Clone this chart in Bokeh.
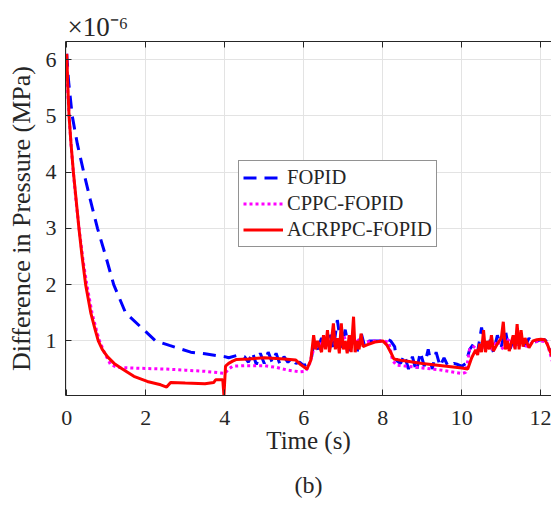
from bokeh.plotting import figure
from bokeh.models import Range1d, FixedTicker, Legend, LegendItem, LinearAxis, Title
from bokeh.embed import file_html
from bokeh.resources import INLINE

# ---- data (values in units of 1e-6 MPa) ----
t_fopid = [0, 0.05, 0.14, 0.27, 0.43, 0.6, 0.78, 0.99, 1.19, 1.49, 1.87, 2.25, 2.6, 3.14, 3.5, 3.8, 4.0,
           4.1, 4.3, 4.5, 4.6, 4.7, 4.8, 4.9, 5.0, 5.1, 5.2, 5.3, 5.4, 5.5, 5.6, 5.7, 5.8, 5.9, 6.0, 6.1, 6.2,
           6.25, 6.35, 6.45, 6.55, 6.65, 6.75, 6.85, 6.95, 7.05, 7.15, 7.25, 7.35, 7.45, 7.55, 7.65, 7.8, 8.0,
           8.1, 8.2, 8.3, 8.35, 8.45, 8.55, 8.65, 8.75, 8.85, 8.95, 9.05, 9.15, 9.25, 9.35, 9.45, 9.55, 9.65,
           9.8, 9.9, 10.0, 10.1, 10.2, 10.3, 10.4, 10.5, 10.6, 10.7, 10.8, 10.9, 11.0, 11.1, 11.2, 11.3, 11.4,
           11.5, 11.6, 11.7, 11.8, 11.9, 12.0, 12.1, 12.2, 12.3]
v_fopid = [6.1, 5.6, 5.0, 4.5, 4.0, 3.5, 3.0, 2.5, 2.0, 1.5, 1.25, 1.0, 0.92, 0.8, 0.77, 0.74, 0.72,
           0.7, 0.74, 0.72, 0.62, 0.8, 0.58, 0.78, 0.6, 0.8, 0.62, 0.78, 0.58, 0.72, 0.62, 0.7, 0.6, 0.62, 0.56, 0.6, 0.72,
           0.95, 0.85, 1.05, 0.9, 1.18, 0.85, 1.37, 0.88, 1.2, 0.82, 1.1, 0.8, 1.15, 0.88, 1.0, 1.0, 1.0,
           1.03, 1.0, 0.9, 0.65, 0.6, 0.75, 0.5, 0.72, 0.45, 0.8, 0.55, 0.85, 0.5, 0.8, 0.55, 0.7, 0.55,
           0.6, 0.58, 0.55, 0.6, 0.85, 0.95, 0.8, 1.24, 0.85, 1.05, 0.8, 1.1, 0.9, 1.2, 0.82, 1.0, 0.85,
           1.1, 0.9, 1.05, 0.95, 1.0, 1.02, 1.02, 0.95, 0.72]

t_cppc = [0, 0.03, 0.07, 0.12, 0.18, 0.25, 0.33, 0.42, 0.51, 0.64, 0.75, 0.82, 0.95, 1.11, 1.28, 1.6, 2.0,
          2.5, 3.0, 3.5, 3.9, 4.0,
          4.1, 4.2, 4.5, 5.0, 5.3, 5.6, 5.9, 6.05, 6.15, 6.25, 6.4, 6.55, 6.7, 6.85, 7.0, 7.15, 7.3, 7.45,
          7.6, 7.8, 8.0, 8.15, 8.25, 8.35, 9.0, 9.5, 10.0, 10.1, 10.2, 10.3, 10.45, 10.6, 10.75, 10.9, 11.05,
          11.2, 11.35, 11.5, 11.65, 11.8, 12.0, 12.15, 12.3]
v_cppc = [6.1, 5.4, 4.9, 4.4, 3.9, 3.4, 2.9, 2.4, 2.0, 1.5, 1.2, 1.02, 0.8, 0.58, 0.53, 0.52, 0.51,
          0.5, 0.48, 0.46, 0.43, 0.42,
          0.5, 0.55, 0.56, 0.56, 0.53, 0.48, 0.45, 0.46, 0.6, 0.85, 0.95, 0.9, 1.05, 0.9, 1.1, 0.9, 1.05, 0.95,
          0.98, 1.0, 1.0, 0.98, 0.65, 0.57, 0.52, 0.48, 0.42, 0.44, 0.85, 0.9, 0.8, 0.98, 0.85, 1.0, 0.85,
          1.05, 0.88, 1.0, 0.9, 0.98, 1.0, 0.98, 0.62]

t_acr = [0, 0.03, 0.06, 0.11, 0.17, 0.24, 0.31, 0.39, 0.48, 0.61, 0.72, 0.8, 0.9, 1.03, 1.2, 1.37, 1.7,
         2.04, 2.38, 2.53, 2.63, 3.0, 3.5, 3.72, 3.77, 3.95, 3.98, 4.02, 4.1, 4.2, 4.3,
         4.6, 5.0, 5.5, 5.8, 5.92, 6.08, 6.18, 6.25, 6.3, 6.35,
         6.45, 6.5, 6.55, 6.6, 6.65, 6.7, 6.75, 6.8, 6.85, 6.9, 6.95, 7.0, 7.05, 7.1, 7.15, 7.2, 7.26, 7.3,
         7.35, 7.4, 7.45, 7.5, 7.6, 7.8, 8.0, 8.1, 8.2, 8.28, 8.5, 9.0, 9.5, 10.0, 10.15, 10.25, 10.35, 10.4,
         10.45, 10.5, 10.55, 10.6, 10.65, 10.7, 10.75, 10.8, 10.9, 11.0, 11.05, 11.1, 11.15, 11.2, 11.3, 11.35,
         11.4, 11.45, 11.5, 11.55, 11.6, 11.7, 11.8, 11.9, 12.0, 12.1, 12.17, 12.3]
v_acr = [6.1, 5.5, 5.0, 4.5, 4.0, 3.5, 3.0, 2.5, 2.0, 1.5, 1.2, 1.0, 0.85, 0.72, 0.6, 0.52, 0.37,
         0.28, 0.22, 0.18, 0.26, 0.25, 0.24, 0.26, 0.31, 0.31, 0.03, 0.55, 0.6, 0.64, 0.67,
         0.68, 0.7, 0.68, 0.66, 0.58, 0.5, 0.66, 1.1, 0.85, 1.0,
         0.8, 1.1, 0.85, 1.19, 0.8, 1.0, 1.31, 0.85, 1.05, 0.78, 1.31, 0.85, 1.0, 0.78, 1.1, 0.8, 1.43, 0.8,
         1.0, 0.85, 1.13, 0.9, 0.93, 0.98, 1.0, 0.93, 0.8, 0.68, 0.65, 0.6, 0.56, 0.52, 0.5, 0.7, 0.84, 0.75,
         0.95, 0.8, 1.19, 0.8, 1.0, 0.85, 1.1, 0.82, 0.95, 1.05, 1.34, 0.85, 1.0, 0.82, 1.1, 0.85,
         1.3, 0.85, 1.19, 0.9, 1.05, 0.88, 1.0, 1.02, 1.03, 1.02, 0.93, 0.7]

x_ticks = [0, 2, 4, 6, 8, 10, 12]
y_ticks = [1, 2, 3, 4, 5, 6]
series_names = ["FOPID", "CPPC-FOPID", "ACRPPC-FOPID"]

FONT = "Liberation Serif"
TXT = "#262626"
X0, X1 = -0.03, 12.27
Y0, Y1 = 0.03, 6.32

p = figure(width=551, height=511, output_backend="svg", toolbar_location=None,
           x_range=Range1d(X0, X1), y_range=Range1d(Y0, Y1),
           min_border_left=65, min_border_right=0, min_border_top=41, min_border_bottom=115)
p.outline_line_color = None
p.background_fill_color = "white"
p.border_fill_color = "white"

for ax, ticks in ((p.xaxis[0], x_ticks), (p.yaxis[0], y_ticks)):
    ax.ticker = FixedTicker(ticks=ticks)
    ax.major_tick_in = 6
    ax.major_tick_out = 0
    ax.minor_tick_line_color = None
    ax.axis_line_color = TXT
    ax.major_tick_line_color = TXT
    ax.major_label_text_font = FONT
    ax.major_label_text_font_size = "22px"
    ax.major_label_text_color = TXT
    ax.axis_label_text_font = FONT
    ax.axis_label_text_font_style = "normal"
    ax.axis_label_text_color = TXT
p.xaxis.major_label_standoff = 15
p.yaxis.major_label_standoff = 9
p.xaxis.axis_label = "Time (s)"
p.xaxis.axis_label_text_font_size = "25px"
p.xaxis.axis_label_standoff = -1
p.yaxis.axis_label = "Difference in Pressure (MPa)"
p.yaxis.axis_label_text_font_size = "26px"
p.yaxis.axis_label_standoff = 7

top = LinearAxis(ticker=FixedTicker(ticks=x_ticks), major_tick_in=6, major_tick_out=0,
                 minor_tick_line_color=None, axis_line_color=TXT, major_tick_line_color=TXT,
                 major_label_text_font_size="0px", major_label_standoff=0,
                 major_label_text_color=None)
p.add_layout(top, "above")

p.title.text = "\u00d710\u207b\u2076"
p.title.align = "left"
p.title.offset = 2
p.title.standoff = 0
p.title.text_font = FONT
p.title.text_font_size = "27px"
p.title.text_font_style = "normal"
p.title.text_color = TXT

caption = Title(text="(b)", align="center", offset=-6, standoff=27, text_font=FONT,
                text_font_size="24px", text_font_style="normal", text_color=TXT)
p.add_layout(caption, "below")

p.grid.grid_line_color = "#e3e3e3"
p.grid.grid_line_width = 1
p.xgrid.ticker = FixedTicker(ticks=x_ticks)
p.ygrid.ticker = FixedTicker(ticks=y_ticks)

r1 = p.line(t_fopid, v_fopid, line_color="#0000ff", line_width=3, line_dash="13 8")
r2 = p.line(t_cppc, v_cppc, line_color="#ff00ff", line_width=3, line_dash="3 3")
r3 = p.line(t_acr, v_acr, line_color="#ff0000", line_width=3)

legend = Legend(items=[LegendItem(label=series_names[0], renderers=[r1]),
                       LegendItem(label=series_names[1], renderers=[r2]),
                       LegendItem(label=series_names[2], renderers=[r3])],
                location=(173, 148), orientation="vertical",
                label_text_font=FONT, label_text_font_size="20.5px", label_text_color=TXT,
                glyph_width=40, glyph_height=25, label_height=25, label_standoff=4,
                spacing=1, padding=4, margin=0,
                border_line_color=TXT, border_line_width=1, background_fill_color="white",
                background_fill_alpha=1.0)
p.add_layout(legend, "center")

open("out.html", "w").write(file_html(p, INLINE))
